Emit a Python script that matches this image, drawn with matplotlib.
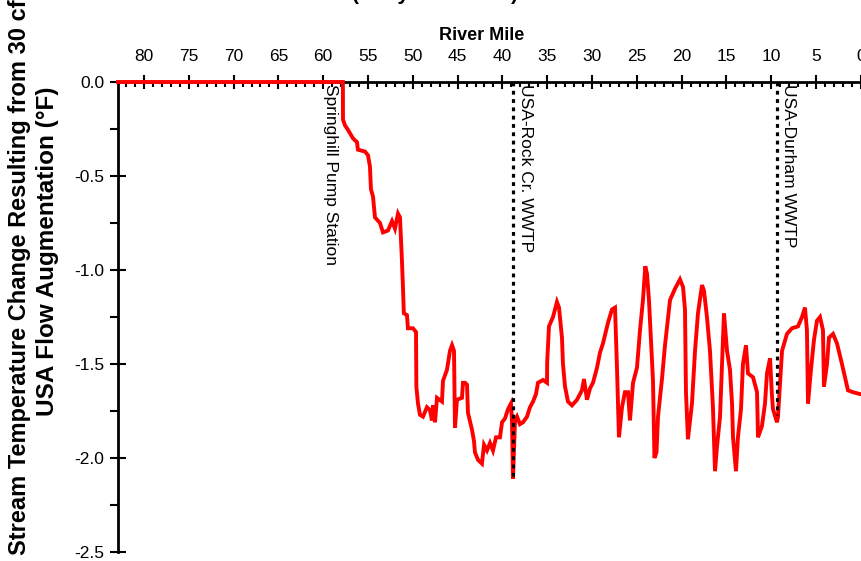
import matplotlib
matplotlib.use("Agg")
import matplotlib.pyplot as plt
from matplotlib.ticker import MultipleLocator

plt.rcParams['font.family'] = ['Liberation Sans', 'DejaVu Sans']

# River mile (downstream to the right) and modeled temperature change (deg F)
river_mile = [
    82.9, 57.80, 57.79, 57.57, 57.23, 56.67, 56.23, 56.12, 55.33, 55.00,
    54.78, 54.67, 54.44, 54.22, 53.66, 53.33, 52.77, 52.32, 51.99, 51.65,
    51.43, 51.21, 51.09, 51.00, 50.65, 50.54, 49.98, 49.64, 49.60, 49.42,
    49.20, 48.86, 48.42, 48.08, 47.86, 47.75, 47.52, 47.30, 46.74, 46.63,
    46.18, 45.85, 45.62, 45.40, 45.29, 45.07, 44.51, 44.40, 44.17, 43.95,
    43.84, 43.39, 43.17, 43.06, 42.72, 42.28, 42.05, 41.72, 41.38, 41.05,
    40.71, 40.27, 40.04, 39.71, 39.37, 39.04, 38.93, 38.82, 38.59, 38.37,
    38.04, 37.70, 37.25, 36.92, 36.58, 36.25, 36.03, 35.47, 35.02, 35.00,
    34.80, 34.35, 33.91, 33.68, 33.35, 33.24, 33.01, 32.68, 32.23, 31.67,
    31.12, 30.89, 30.56, 30.22, 29.89, 29.44, 29.11, 28.77, 28.21, 27.77,
    27.43, 27.21, 27.10, 26.99, 26.65, 26.32, 25.98, 25.76, 25.42, 24.98,
    24.64, 24.31, 24.05, 23.86, 23.64, 23.42, 23.19, 23.03, 22.80, 22.63,
    22.19, 21.85, 21.29, 20.74, 20.18, 19.84, 19.62, 19.51, 19.29, 18.84,
    18.50, 18.17, 17.72, 17.50, 17.17, 16.83, 16.50, 16.27, 16.05, 15.71,
    15.49, 15.27, 14.93, 14.60, 14.37, 14.26, 13.93, 13.71, 13.37, 13.15,
    12.81, 12.59, 12.03, 11.58, 11.47, 11.03, 10.69, 10.47, 10.13, 9.91,
    9.80, 9.35, 9.24, 8.79, 8.24, 7.68, 7.01, 6.56, 6.23, 6.01,
    5.89, 5.56, 5.22, 4.89, 4.55, 4.22, 4.11, 3.77, 3.55, 3.10,
    2.66, 2.10, 1.76, 1.43, 0.87, 0.09, 0.00,
]
temp_change = [
    0.00, 0.00, -0.20, -0.23, -0.255, -0.30, -0.32, -0.36, -0.37, -0.39,
    -0.45, -0.57, -0.61, -0.72, -0.75, -0.80, -0.79, -0.74, -0.78, -0.70,
    -0.72, -0.95, -1.10, -1.23, -1.24, -1.31, -1.31, -1.33, -1.62, -1.71,
    -1.77, -1.78, -1.73, -1.745, -1.80, -1.72, -1.81, -1.68, -1.70, -1.59,
    -1.53, -1.43, -1.40, -1.43, -1.84, -1.69, -1.68, -1.60, -1.60, -1.61,
    -1.76, -1.85, -1.91, -1.97, -2.01, -2.03, -1.93, -1.96, -1.92, -1.96,
    -1.89, -1.89, -1.81, -1.79, -1.74, -1.71, -1.80, -2.11, -1.80, -1.78,
    -1.82, -1.81, -1.78, -1.73, -1.70, -1.66, -1.60, -1.585, -1.60, -1.49,
    -1.30, -1.25, -1.17, -1.20, -1.36, -1.50, -1.62, -1.70, -1.72, -1.69,
    -1.64, -1.58, -1.69, -1.63, -1.60, -1.52, -1.44, -1.39, -1.28, -1.21,
    -1.20, -1.52, -1.71, -1.89, -1.73, -1.65, -1.65, -1.80, -1.60, -1.52,
    -1.32, -1.16, -0.98, -1.02, -1.16, -1.37, -1.59, -2.00, -1.97, -1.78,
    -1.58, -1.40, -1.16, -1.10, -1.05, -1.09, -1.21, -1.65, -1.90, -1.71,
    -1.43, -1.23, -1.08, -1.11, -1.25, -1.43, -1.73, -2.07, -1.94, -1.78,
    -1.50, -1.23, -1.43, -1.53, -1.71, -1.89, -2.07, -1.89, -1.74, -1.50,
    -1.40, -1.55, -1.57, -1.65, -1.89, -1.83, -1.71, -1.55, -1.47, -1.67,
    -1.74, -1.81, -1.78, -1.43, -1.34, -1.31, -1.30, -1.25, -1.20, -1.32,
    -1.71, -1.53, -1.37, -1.27, -1.25, -1.32, -1.62, -1.50, -1.36, -1.34,
    -1.39, -1.50, -1.57, -1.64, -1.65, -1.66, -1.66,
]

# Point sources / withdrawals along the river
site_names = ["Springhill Pump Station", "USA-Rock Cr. WWTP", "USA-Durham WWTP"]
site_miles = [60.0, 38.8, 9.4]
site_line_bottom = [None, -2.10, -1.77]

x_ticks = [80, 75, 70, 65, 60, 55, 50, 45, 40, 35, 30, 25, 20, 15, 10, 5, 0]
y_ticks = [0.0, -0.5, -1.0, -1.5, -2.0, -2.5]

W, H = 862, 561
fig = plt.figure(figsize=(W / 100, H / 100), dpi=100)

# axes geometry in pixels (left spine, top spine, bottom of y-range)
left_px, top_px, bot_px = 118, 82, 552
x_left, x_right = 82.9, -2.0
px_per_mile = 8.96
right_px = left_px + (x_left - x_right) * px_per_mile
ax = fig.add_axes([left_px / W, 1 - bot_px / H,
                   (right_px - left_px) / W, (bot_px - top_px) / H])
ax.set_xlim(x_left, x_right)
ax.set_ylim(-2.5, 0.0)

ax.plot(river_mile, temp_change, color='#ff0000', lw=2.8, zorder=3,
        clip_on=False, solid_joinstyle='miter')

for name, m, yb in zip(site_names, site_miles, site_line_bottom):
    if yb is not None:
        ax.plot([m, m], [0, yb], color='black', lw=2.3,
                linestyle=(0, (1.2, 1.4)), zorder=4, clip_on=False)
    ax.text(m - 0.55 if yb is not None else m, -0.012, name, rotation=270,
            ha='left', va='top', fontsize=12.5, color='black', zorder=5)

# axes styling: only top and left spines
for side in ('right', 'bottom'):
    ax.spines[side].set_visible(False)
for side in ('top', 'left'):
    ax.spines[side].set_linewidth(2.0)

ax.xaxis.tick_top()
ax.set_xticks(x_ticks)
ax.set_xticklabels([str(t) for t in x_ticks])
ax.xaxis.set_minor_locator(MultipleLocator(1))
ax.set_yticks(y_ticks)
ax.set_yticklabels([f"{t:.1f}" for t in y_ticks])
ax.yaxis.set_minor_locator(MultipleLocator(0.25))

ax.tick_params(axis='x', which='major', direction='inout', length=9.5,
               width=1.5, labelsize=12.5, pad=8, top=True, bottom=False)
ax.tick_params(axis='x', which='minor', direction='in', length=3.6,
               width=1.5, top=True, bottom=False)
ax.tick_params(axis='y', which='major', direction='inout', length=12,
               width=1.5, labelsize=12.5, pad=4)
ax.tick_params(axis='y', which='minor', direction='out', length=5.8,
               width=1.5)

# axis titles
fig.text(482 / W, 1 - 36 / H, "River Mile", ha='center', va='center',
         fontsize=13, fontweight='bold')
fig.text(20 / W, 1 - 555 / H,
         "Stream Temperature Change Resulting from 30 cfs",
         rotation=90, ha='center', va='bottom', fontsize=17,
         fontweight='bold')
fig.text(48 / W, 1 - 251 / H, "USA Flow Augmentation (\u00b0F)",
         rotation=90, ha='center', va='center', fontsize=17.5,
         fontweight='bold')
fig.text(435 / W, 1 - 0.3 / H, "(Daily Maximum)", ha='center',
         va='baseline', fontsize=15, fontweight='bold')

fig.savefig("out.png", dpi=100)
